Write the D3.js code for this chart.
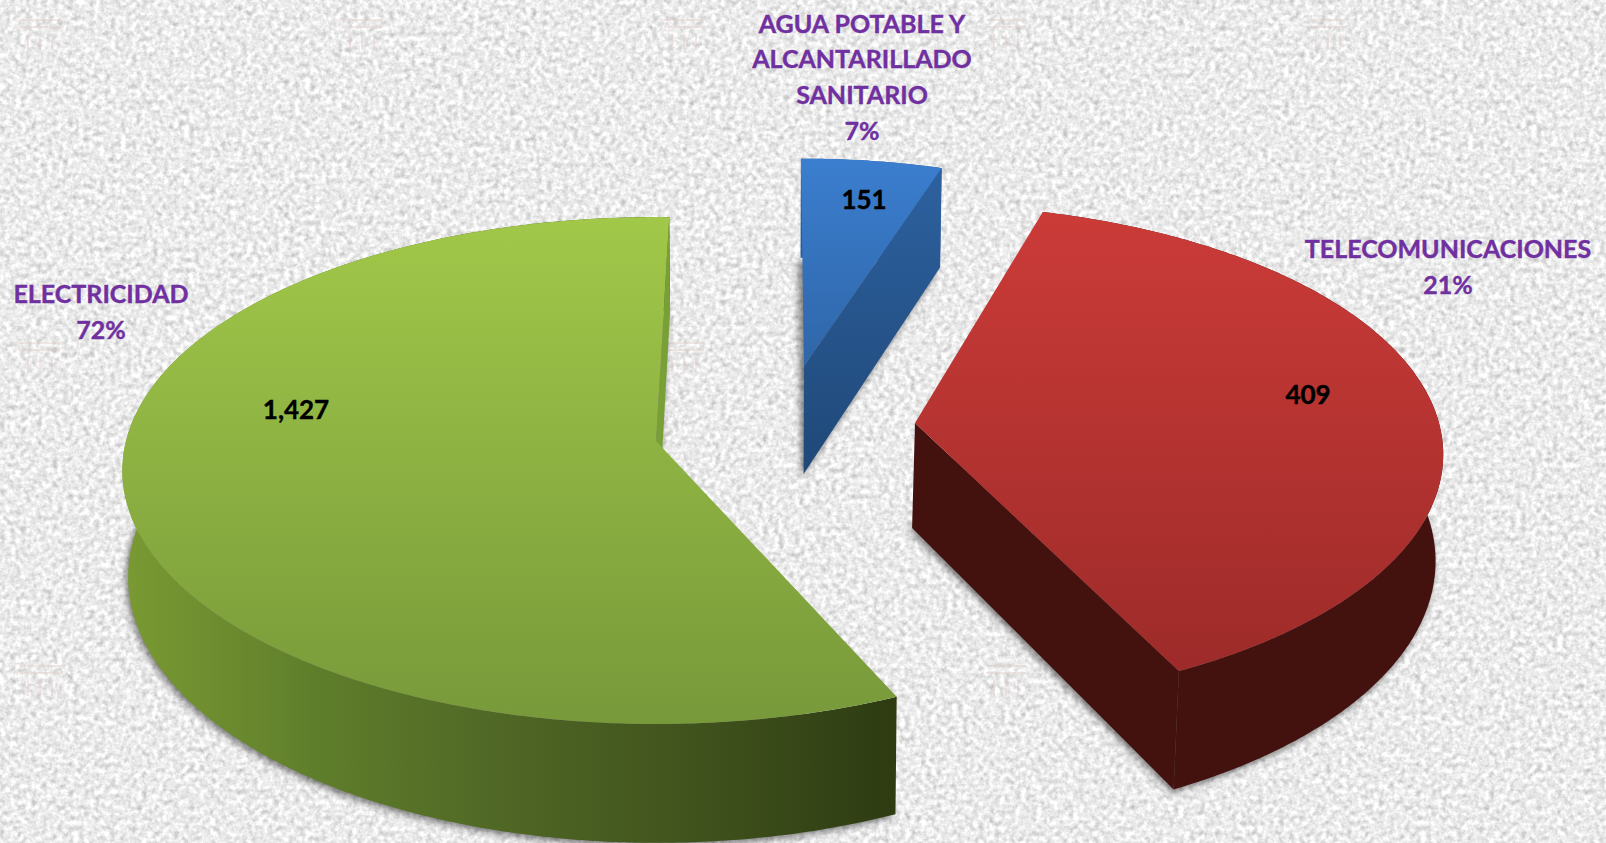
<!DOCTYPE html>
<html>
<head>
<meta charset="utf-8">
<script src="https://cdn.jsdelivr.net/npm/d3@7"></script>
<style>
  html, body { margin: 0; padding: 0; background: #f1f1f1; overflow: hidden; }
  text { font-family: Lato, "Open Sans", sans-serif; font-weight: 700; }
</style>
</head>
<body>
<div id="chart"></div>
<script>
const categories = ["AGUA POTABLE Y|ALCANTARILLADO|SANITARIO", "TELECOMUNICACIONES", "ELECTRICIDAD"];
const values = [151, 409, 1427];
const percents = [7, 21, 72];
// the wedges in the picture do not follow the printed values, these are the shares as drawn
const drawnShares = [4.6, 38, 57.4];

const width = 1606;
const height = 843;
const vanishX = 760;
const converge = 0.009;

// where each exploded wedge sits and how it is foreshortened
// trim = nudge in degrees on the wedge's start and end, the slices were moved by hand in the original
const sliceLayout = [
    { ax: 804, ay: 366, sx: 482, sy: 226, k: 0.09, depth: 108, lean: 0, trim: [-0.9, 1], fill: "url(#blueTop)", wall: "#2a5c98", cut: "url(#blueCut)" },
    { ax: 915, ay: 423, sx: 524, sy: 246, k: 0.126, depth: 105, lean: -1.5, trim: [-1.2, -0.4], fill: "url(#redTop)", wall: "#43120f", cut: "#43120f" },
    { ax: 656, ay: 441, sx: 530, sy: 250, k: 0.1165, depth: 105, lean: 0, trim: [2.2, 1.1], fill: "url(#greenTop)", wall: "url(#greenWall)", cut: "#78a036" }
];
const labelLayout = [
    { x: 862, y: 24, lineGap: 35.6, vx: 864, vy: 200 },
    { x: 1448, y: 249, lineGap: 36, vx: 1308, vy: 395 },
    { x: 101, y: 294, lineGap: 36, vx: 296, vy: 410 }
];

const svg = d3.select("#chart").append("svg")
    .attr("width", width)
    .attr("height", height)
    .style("display", "block");

const defs = svg.append("defs");

function addGradient(id, x2, y2, stops) {
    const g = defs.append("linearGradient")
        .attr("id", id)
        .attr("x1", 0).attr("y1", 0)
        .attr("x2", x2).attr("y2", y2);
    stops.forEach(s => {
        g.append("stop").attr("offset", s[0]).attr("stop-color", s[1]);
    });
}
addGradient("blueTop", 0, 1, [[0, "#3b7ecf"], [1, "#2f66a8"]]);
addGradient("blueCut", 0, 1, [[0, "#2d619f"], [1, "#1f4878"]]);
addGradient("redTop", 0, 1, [[0, "#cb3b38"], [1, "#9d2b29"]]);
addGradient("greenTop", 0, 1, [[0, "#a1c849"], [1, "#78993a"]]);
addGradient("greenWall", 1, 0, [[0, "#7a9a33"], [0.25, "#5f7e2b"], [0.5, "#4f6625"], [0.75, "#3f521c"], [1, "#2e3b12"]]);

// paper texture behind the chart
const paper = defs.append("filter")
    .attr("id", "paper")
    .attr("x", 0).attr("y", 0)
    .attr("width", "100%").attr("height", "100%")
    .attr("color-interpolation-filters", "sRGB");
paper.append("feTurbulence")
    .attr("type", "fractalNoise")
    .attr("baseFrequency", 0.19)
    .attr("numOctaves", 3)
    .attr("seed", 4);
paper.append("feColorMatrix")
    .attr("type", "matrix")
    .attr("values", "0.27 0.27 0 0 0.65  0.27 0.27 0 0 0.65  0.27 0.27 0 0 0.65  0 0 0 0 1");
paper.append("feGaussianBlur").attr("stdDeviation", 0.7);

const blur = defs.append("filter")
    .attr("id", "shadow")
    .attr("x", "-10%").attr("y", "-10%")
    .attr("width", "120%").attr("height", "120%");
blur.append("feGaussianBlur").attr("stdDeviation", 3.5);

svg.append("rect")
    .attr("width", width)
    .attr("height", height)
    .attr("fill", "#f1f1f1")
    .attr("filter", "url(#paper)");

// faint logo stamped across the paper
const stampX = d3.range(40, width, 322);
const stampY = d3.range(32, height, 323);
const stamps = svg.append("g")
    .attr("fill", "none")
    .attr("stroke", "#e3cfc9")
    .attr("stroke-width", 2)
    .attr("opacity", 0.45);
stampY.forEach(y => {
    stampX.forEach(x => {
        stamps.append("path")
            .attr("d", `M${x - 20},${y - 12}H${x + 20}M${x - 20},${y - 5}H${x + 20}M${x - 12},${y + 2}V${y + 18}M${x},${y + 2}V${y + 18}M${x + 12},${y + 2}V${y + 18}`);
    });
});

const pie = d3.pie()
    .sort(null)
    .startAngle(0.5 * Math.PI / 180)
    .endAngle(360.5 * Math.PI / 180);
const arcs = pie(drawnShares);

function project(layout, angle, r, z) {
    const s = Math.sin(angle) * r;
    const c = -Math.cos(angle) * r;
    const w = 1 - layout.k * c;
    const x = layout.ax + layout.sx * s / w;
    const y = layout.ay + layout.sy * c / w + z * layout.depth / w;
    return [vanishX + (x - vanishX) * (1 - converge * z) + z * layout.lean, y];
}

const polygon = d3.line();

arcs.forEach((d, i) => {
    const layout = sliceLayout[i];
    const start = d.startAngle + layout.trim[0] * Math.PI / 180;
    const end = d.endAngle + layout.trim[1] * Math.PI / 180;
    const steps = d3.range(start, end, 0.01).concat([end]);
    const topArc = steps.map(a => project(layout, a, 1, 0));
    const bottomArc = steps.map(a => project(layout, a, 1, 1));
    const apex = project(layout, 0, 0, 0);
    const apexLow = project(layout, 0, 0, 1);
    const g = svg.append("g");

    // the soft shadow comes from the underside of the wedge only
    g.append("path")
        .attr("d", polygon([apexLow].concat(bottomArc)) + "Z")
        .attr("transform", "translate(-2,3)")
        .attr("fill", "#000")
        .attr("opacity", 0.5)
        .attr("filter", "url(#shadow)");

    g.append("path")
        .attr("d", polygon(topArc.concat(bottomArc.slice().reverse())) + "Z")
        .attr("fill", layout.wall);
    // only the cut at the end of each wedge faces the viewer here
    g.append("path")
        .attr("d", polygon([apex, project(layout, end, 1, 0), project(layout, end, 1, 1), apexLow]) + "Z")
        .attr("fill", layout.cut);
    g.append("path")
        .attr("d", polygon([apex].concat(topArc)) + "Z")
        .attr("fill", layout.fill);
});

categories.forEach((name, i) => {
    const pos = labelLayout[i];
    const lines = name.split("|").concat([percents[i] + "%"]);
    svg.append("g").selectAll("text")
        .data(lines)
        .enter().append("text")
        .attr("x", pos.x)
        .attr("y", (d, j) => pos.y + j * pos.lineGap)
        .attr("dy", "0.35em")
        .attr("text-anchor", "middle")
        .attr("font-size", 25)
        .attr("fill", "#7030a0")
        .attr("stroke", "#7030a0")
        .attr("stroke-width", 0.4)
        .text(d => d);
    svg.append("text")
        .attr("x", pos.vx)
        .attr("y", pos.vy)
        .attr("dy", "0.35em")
        .attr("text-anchor", "middle")
        .attr("font-size", 26)
        .attr("fill", "#000")
        .attr("stroke", "#000")
        .attr("stroke-width", 0.4)
        .text(d3.format(",")(values[i]));
});
</script>
</body>
</html>
